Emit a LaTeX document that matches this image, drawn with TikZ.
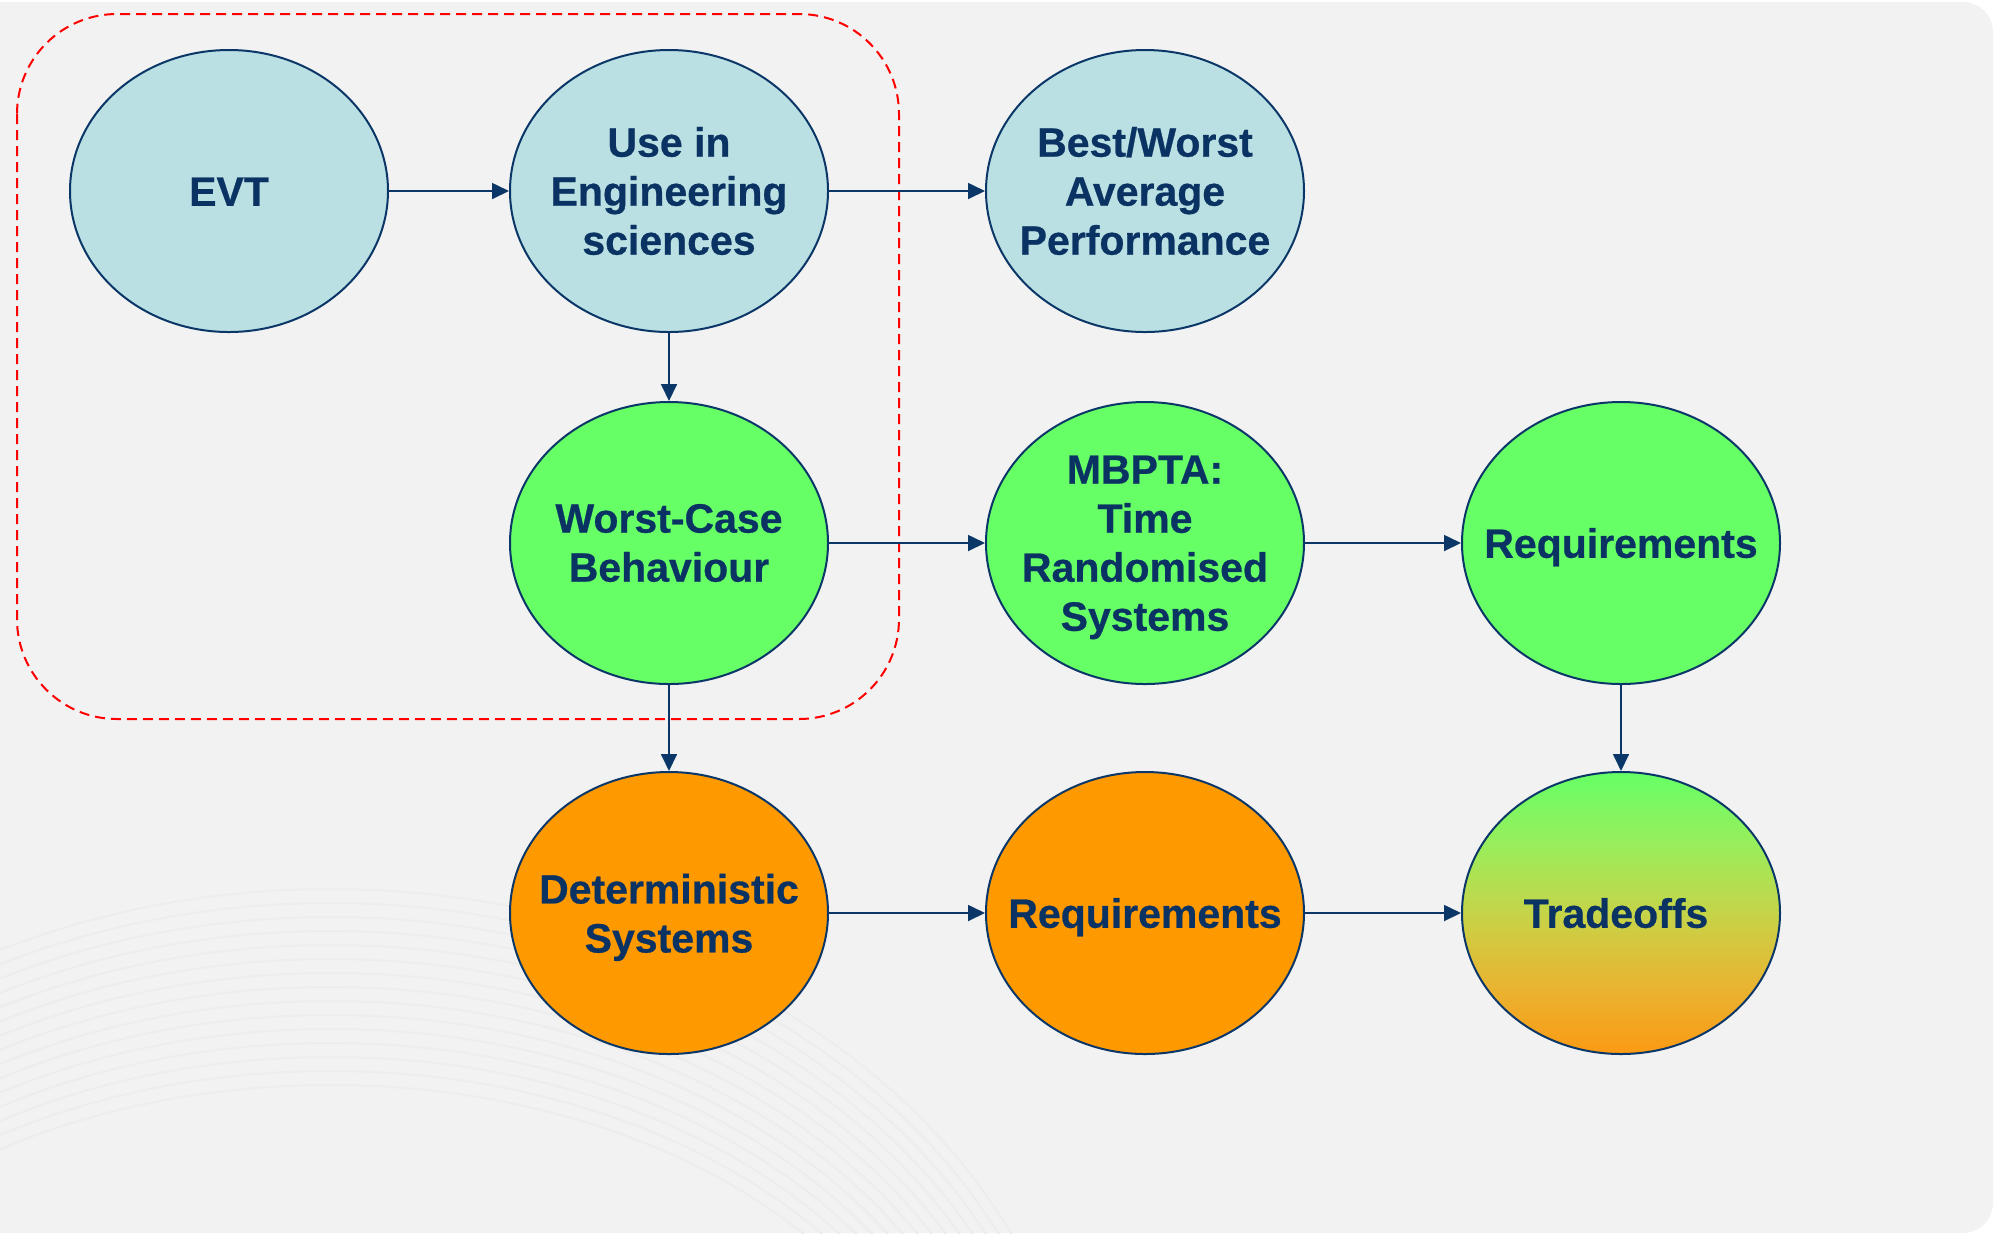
\documentclass[tikz,border=0pt]{standalone}
\usepackage{fontspec}
\setmainfont{Liberation Sans}[BoldFeatures={FakeBold=0.6}]
\usetikzlibrary{shapes.geometric,arrows.meta}
\definecolor{navy}{HTML}{0B3768}
\definecolor{txtnavy}{HTML}{0A3363}
\definecolor{lblue}{HTML}{BBE0E3}
\definecolor{lgreen}{HTML}{66FF66}
\definecolor{lorange}{HTML}{FF9900}
\definecolor{bggray}{HTML}{F2F2F2}
\definecolor{arcgray}{HTML}{EDEDED}
\definecolor{tgA}{HTML}{FB9A14}
\definecolor{tgB}{HTML}{E8B532}
\definecolor{tgC}{HTML}{C6D448}
\definecolor{tgD}{HTML}{98EE5C}
\definecolor{tgE}{HTML}{66FF66}
\pgfdeclareverticalshading{tradeshade}{100bp}{color(0bp)=(tgA); color(25bp)=(tgA); color(37.5bp)=(tgB); color(50bp)=(tgC); color(62.5bp)=(tgD); color(75bp)=(tgE); color(100bp)=(tgE)}
\begin{document}
\begin{tikzpicture}[x=0.4pt,y=-0.4pt,
  ell/.style={ellipse, draw=navy, line width=0.8pt, minimum width=127.2pt, minimum height=112.8pt, inner sep=0pt},
  blue/.style={ell, fill=lblue},
  green/.style={ell, fill=lgreen},
  orange/.style={ell, fill=lorange},
  trade/.style={ell, shading=tradeshade},
  txt/.style={font=\fontsize{16.4}{19.6}\selectfont\bfseries, text=txtnavy, align=center, inner sep=0pt},
  oneline/.style={txt, text height=11.8pt, text depth=0pt},
  desc/.style={txt, yshift=-1.75pt},
  conn/.style={draw=navy, line width=0.7pt, -{Triangle[length=6.8pt,width=6.4pt]}},
  group/.style={draw=red, line width=0.8pt, dash pattern=on 4pt off 2.4pt, rounded corners=40pt},
  arcline/.style={draw=arcgray, line width=0.8pt}
]
\useasboundingbox (0,0) rectangle (1995,1236);
% background panel
\fill[bggray, rounded corners=12pt] (-60,2) rectangle (1993,1233);
\begin{scope}
  \clip (0,2) rectangle (1993,1233);
  \foreach \i in {0,...,14} {
    \draw[arcline] (330,1500) ellipse [x radius={757-10*\i}, y radius={611-14*\i}];
  }
\end{scope}
% dashed group
\draw[group] (17,14) rectangle (899,719);
% nodes
\node[blue, label={[oneline]center:EVT}] (evt) at (229,191) {};
\node[blue, label={[txt]center:{Use in\\Engineering\\sciences}}] (use) at (669,191) {};
\node[blue, label={[txt]center:{Best/Worst\\Average\\Performance}}] (best) at (1145,191) {};
\node[green, label={[txt]center:{Worst-Case\\Behaviour}}] (worst) at (669,543) {};
\node[green, label={[desc]center:{MBPTA:\\Time\\Randomised\\Systems}}] (mbpta) at (1145,543) {};
\node[green, label={[oneline]center:Requirements}] (req1) at (1621,543) {};
\node[orange, label={[desc]center:{Deterministic\\Systems}}] (det) at (669,913) {};
\node[orange, label={[oneline]center:Requirements}] (req2) at (1145,913) {};
\node[trade, label={[oneline, xshift=-2pt]center:Tradeoffs}] (trade) at (1621,913) {};
% connectors
\draw[conn] (evt) -- (use);
\draw[conn] (use) -- (best);
\draw[conn] (use) -- (worst);
\draw[conn] (worst) -- (mbpta);
\draw[conn] (worst) -- (det);
\draw[conn] (mbpta) -- (req1);
\draw[conn] (req1) -- (trade);
\draw[conn] (det) -- (req2);
\draw[conn] (req2) -- (trade);
\end{tikzpicture}
\end{document}
